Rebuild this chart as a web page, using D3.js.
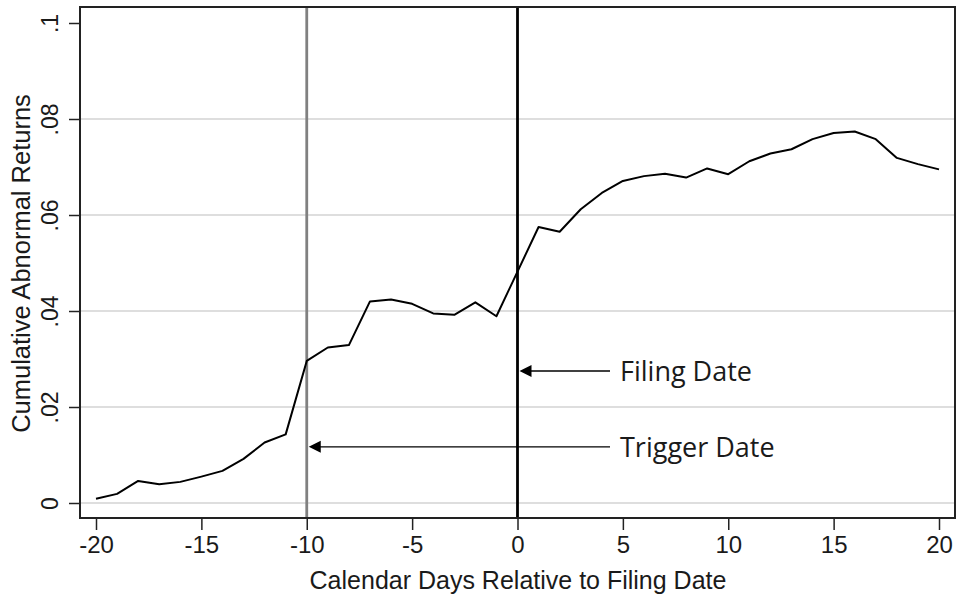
<!DOCTYPE html>
<html>
<head>
<meta charset="utf-8">
<script src="https://cdn.jsdelivr.net/npm/d3@7"></script>
<style>
  body { margin: 0; background: #fff; }
  text { font-family: "Liberation Sans", Arial, sans-serif; fill: #1a1a1a; }
  .note { font-family: "Open Sans", sans-serif; }
</style>
</head>
<body>
<div id="canvas"></div>
<script>
// data
const days = d3.range(-20, 21);
const car = [
  0.0009, 0.0019, 0.0046, 0.0039, 0.0044, 0.0055, 0.0067, 0.0092, 0.0126, 0.0143,
  0.0296, 0.0324, 0.0329, 0.0420, 0.0424, 0.0415, 0.0395, 0.0392, 0.0418, 0.0389,
  0.0482, 0.0575, 0.0565, 0.0612, 0.0646, 0.0671, 0.0681, 0.0686, 0.0678, 0.0697,
  0.0685, 0.0712, 0.0728, 0.0737, 0.0758, 0.0771, 0.0774, 0.0758, 0.0719, 0.0706,
  0.0695
];
const xTicks = [-20, -15, -10, -5, 0, 5, 10, 15, 20];
const yTicks = [0, 0.02, 0.04, 0.06, 0.08, 0.1];
const yTickLabels = ["0", ".02", ".04", ".06", ".08", ".1"];
const gridTicks = [0, 0.02, 0.04, 0.06, 0.08];
const events = [
  { day: -10, label: "Trigger Date", value: 0.0117, color: "#808080" },
  { day: 0, label: "Filing Date", value: 0.0275, color: "#000" }
];

const dims = { width: 956, height: 600 };
const frame = { left: 80, right: 955, top: 7, bottom: 518 };

const svg = d3
  .select("#canvas")
  .append("svg")
  .attr("width", dims.width)
  .attr("height", dims.height);

const x = d3.scaleLinear().domain([-20, 20]).range([96, 939]);
const y = d3.scaleLinear().domain([0, 0.1]).range([503, 23]);

// grid lines
svg
  .append("g")
  .selectAll("line")
  .data(gridTicks)
  .join("line")
  .attr("x1", frame.left)
  .attr("x2", frame.right)
  .attr("y1", d => y(d))
  .attr("y2", d => y(d))
  .attr("stroke", "#dedede")
  .attr("stroke-width", 2);

// event lines
svg
  .append("g")
  .selectAll("line")
  .data(events)
  .join("line")
  .attr("x1", d => x(d.day))
  .attr("x2", d => x(d.day))
  .attr("y1", frame.top)
  .attr("y2", frame.bottom)
  .attr("stroke", d => d.color)
  .attr("stroke-width", 2.8);

// CAR line
const lineGen = d3
  .line()
  .x((d, i) => x(days[i]))
  .y(d => y(d));

svg
  .append("path")
  .datum(car)
  .attr("d", lineGen)
  .attr("fill", "none")
  .attr("stroke", "#000")
  .attr("stroke-width", 2)
  .attr("stroke-linejoin", "round");

// frame
svg
  .append("rect")
  .attr("x", frame.left)
  .attr("y", frame.top)
  .attr("width", frame.right - frame.left)
  .attr("height", frame.bottom - frame.top)
  .attr("fill", "none")
  .attr("stroke", "#222")
  .attr("stroke-width", 2);

// axes
const xAxis = d3
  .axisBottom(x)
  .tickValues(xTicks)
  .tickFormat(d => String(d))
  .tickSize(12)
  .tickSizeOuter(0)
  .tickPadding(4);
const xAxisGroup = svg
  .append("g")
  .attr("transform", `translate(0, ${frame.bottom})`)
  .call(xAxis);
xAxisGroup.select(".domain").remove();
xAxisGroup.selectAll("line").attr("stroke", "#222").attr("stroke-width", 1.5);
xAxisGroup
  .selectAll("text")
  .attr("font-size", 24)
  .attr("dy", "0.78em")
  .attr("fill", "#1a1a1a")
  .attr("font-family", "Liberation Sans, Arial, sans-serif");

const yAxis = d3
  .axisLeft(y)
  .tickValues(yTicks)
  .tickFormat((d, i) => yTickLabels[i])
  .tickSize(11)
  .tickSizeOuter(0);
const yAxisGroup = svg
  .append("g")
  .attr("transform", `translate(${frame.left}, 0)`)
  .call(yAxis);
yAxisGroup.select(".domain").remove();
yAxisGroup.selectAll("line").attr("stroke", "#222").attr("stroke-width", 1.5);
yAxisGroup
  .selectAll("text")
  .attr("font-size", 23)
  .attr("x", null)
  .attr("dy", null)
  .attr("text-anchor", "middle")
  .attr("fill", "#1a1a1a")
  .attr("font-family", "Liberation Sans, Arial, sans-serif")
  .attr("transform", "translate(-22, 0) rotate(-90)");

// axis titles
svg
  .append("text")
  .attr("x", 518)
  .attr("y", 589)
  .attr("text-anchor", "middle")
  .attr("font-size", 25)
  .text("Calendar Days Relative to Filing Date");

svg
  .append("text")
  .attr("transform", `translate(30, ${(frame.top + frame.bottom) / 2 + 1}) rotate(-90)`)
  .attr("text-anchor", "middle")
  .attr("font-size", 25.5)
  .text("Cumulative Abnormal Returns");

// annotations
const notes = svg.append("g");
notes
  .selectAll("line")
  .data(events)
  .join("line")
  .attr("x1", 610)
  .attr("x2", d => x(d.day) + 12)
  .attr("y1", d => y(d.value))
  .attr("y2", d => y(d.value))
  .attr("stroke", "#000")
  .attr("stroke-width", 1.3);

notes
  .selectAll("path")
  .data(events)
  .join("path")
  .attr("d", d => {
    const tx = x(d.day) + 2;
    const ty = y(d.value);
    return `M${tx},${ty}L${tx + 12},${ty - 6}L${tx + 12},${ty + 6}Z`;
  })
  .attr("fill", "#000");

notes
  .selectAll("text")
  .data(events)
  .join("text")
  .attr("class", "note")
  .attr("x", 620)
  .attr("y", d => y(d.value) + 10)
  .attr("font-size", 27)
  .text(d => d.label);
</script>
</body>
</html>
